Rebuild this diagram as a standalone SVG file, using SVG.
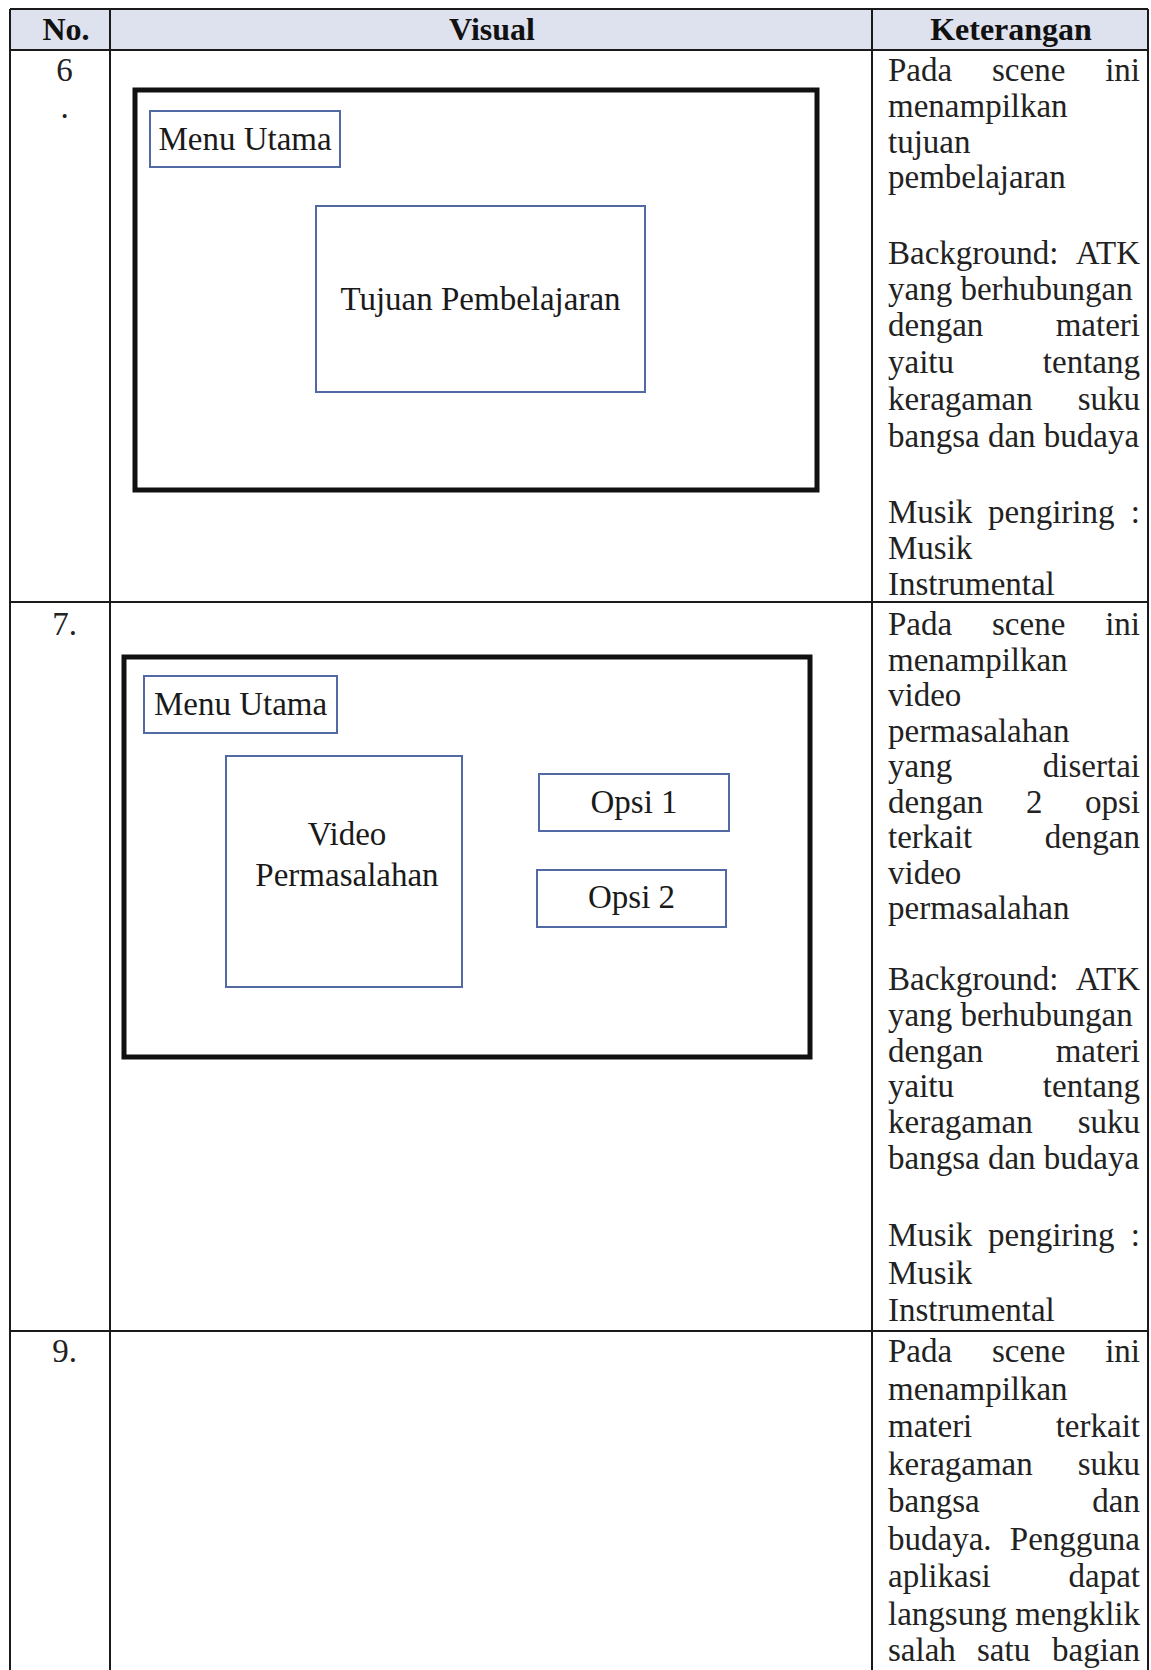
<svg xmlns="http://www.w3.org/2000/svg" width="1151" height="1670" viewBox="0 0 1151 1670">
<style>
  .grid { stroke: #1a1a1a; stroke-width: 2; fill: none; }
  .hdr { font-family: "Liberation Serif", "Times New Roman", serif; font-weight: bold; font-size: 32px; fill: #111; text-anchor: middle; }
  .num { font-family: "Liberation Serif", "Times New Roman", serif; font-size: 33px; fill: #222; text-anchor: middle; }
  .body { font-family: "Liberation Serif", "Times New Roman", serif; font-size: 33px; fill: #222; }
  .lbl { font-family: "Liberation Serif", "Times New Roman", serif; font-size: 33px; fill: #1a1a1a; text-anchor: middle; }
  .screen { fill: #ffffff; stroke: #111; stroke-width: 5; }
  .box { fill: #ffffff; stroke: #5369a3; stroke-width: 2; }
  .end { text-anchor: end; }
</style>
<rect x="0" y="0" width="1151" height="1670" fill="#ffffff"/>

<g id="table">
  <rect x="10" y="9" width="1138" height="41" fill="#dee2ee"/>
  <line class="grid" x1="10" y1="9" x2="1148" y2="9"/>
  <line class="grid" x1="10" y1="50" x2="1148" y2="50"/>
  <line class="grid" x1="10" y1="602" x2="1148" y2="602"/>
  <line class="grid" x1="10" y1="1331" x2="1148" y2="1331"/>
  <line class="grid" x1="10" y1="9" x2="10" y2="1670"/>
  <line class="grid" x1="110" y1="9" x2="110" y2="1670"/>
  <line class="grid" x1="872" y1="9" x2="872" y2="1670"/>
  <line class="grid" x1="1148" y1="9" x2="1148" y2="1670"/>
</g>

<g id="header">
  <text class="hdr" x="66" y="40">No.</text>
  <text class="hdr" x="492" y="40">Visual</text>
  <text class="hdr" x="1011" y="40">Keterangan</text>
</g>

<g id="row6">
  <text class="num" x="64.5" y="81">6</text>
  <text class="num" x="64.5" y="118">.</text>
  <g id="r6-screen"><rect class="screen" x="135" y="90" width="682" height="400"/></g>
  <g id="r6-menu"><rect class="box" x="150" y="111" width="190" height="56"/><text class="lbl" x="245" y="150">Menu Utama</text></g>
  <g id="r6-tujuan"><rect class="box" x="316" y="206" width="329" height="186"/><text class="lbl" x="480.5" y="310">Tujuan Pembelajaran</text></g>
  <g id="r6-ket" class="body">
    <text y="81"><tspan x="888">Pada</tspan><tspan x="992">scene</tspan><tspan x="1140" class="end">ini</tspan></text>
    <text x="888" y="117">menampilkan</text>
    <text x="888" y="152.5">tujuan</text>
    <text x="888" y="188">pembelajaran</text>
    <text y="263.5"><tspan x="888">Background:</tspan><tspan x="1140" class="end">ATK</tspan></text>
    <text x="888" y="300">yang berhubungan</text>
    <text y="336"><tspan x="888">dengan</tspan><tspan x="1140" class="end">materi</tspan></text>
    <text y="372.5"><tspan x="888">yaitu</tspan><tspan x="1140" class="end">tentang</tspan></text>
    <text y="409.5"><tspan x="888">keragaman</tspan><tspan x="1140" class="end">suku</tspan></text>
    <text x="888" y="447">bangsa dan budaya</text>
    <text y="522.5"><tspan x="888">Musik</tspan><tspan x="988">pengiring</tspan><tspan x="1140" class="end">:</tspan></text>
    <text x="888" y="559">Musik</text>
    <text x="888" y="595">Instrumental</text>
  </g>
</g>

<g id="row7">
  <text class="num" x="64.5" y="635">7.</text>
  <g id="r7-screen"><rect class="screen" x="124" y="657" width="686" height="400"/></g>
  <g id="r7-menu"><rect class="box" x="144" y="676" width="193" height="57"/><text class="lbl" x="240.5" y="715">Menu Utama</text></g>
  <g id="r7-video"><rect class="box" x="226" y="756" width="236" height="231"/><text class="lbl" x="347" y="845">Video</text><text class="lbl" x="347" y="886">Permasalahan</text></g>
  <g id="r7-opsi1"><rect class="box" x="539" y="774" width="190" height="57"/><text class="lbl" x="634" y="813">Opsi 1</text></g>
  <g id="r7-opsi2"><rect class="box" x="537" y="870" width="189" height="57"/><text class="lbl" x="631.5" y="908">Opsi 2</text></g>
  <g id="r7-ket" class="body">
    <text y="635"><tspan x="888">Pada</tspan><tspan x="992">scene</tspan><tspan x="1140" class="end">ini</tspan></text>
    <text x="888" y="670.5">menampilkan</text>
    <text x="888" y="706">video</text>
    <text x="888" y="741.5">permasalahan</text>
    <text y="777"><tspan x="888">yang</tspan><tspan x="1140" class="end">disertai</tspan></text>
    <text y="812.5"><tspan x="888">dengan</tspan><tspan x="1026">2</tspan><tspan x="1140" class="end">opsi</tspan></text>
    <text y="848"><tspan x="888">terkait</tspan><tspan x="1140" class="end">dengan</tspan></text>
    <text x="888" y="883.5">video</text>
    <text x="888" y="919">permasalahan</text>
    <text y="990"><tspan x="888">Background:</tspan><tspan x="1140" class="end">ATK</tspan></text>
    <text x="888" y="1025.8">yang berhubungan</text>
    <text y="1061.6"><tspan x="888">dengan</tspan><tspan x="1140" class="end">materi</tspan></text>
    <text y="1097.4"><tspan x="888">yaitu</tspan><tspan x="1140" class="end">tentang</tspan></text>
    <text y="1133.2"><tspan x="888">keragaman</tspan><tspan x="1140" class="end">suku</tspan></text>
    <text x="888" y="1169">bangsa dan budaya</text>
    <text y="1246"><tspan x="888">Musik</tspan><tspan x="988">pengiring</tspan><tspan x="1140" class="end">:</tspan></text>
    <text x="888" y="1283.5">Musik</text>
    <text x="888" y="1321">Instrumental</text>
  </g>
</g>

<g id="row9">
  <text class="num" x="64.5" y="1362">9.</text>
  <g id="r9-ket" class="body">
    <text y="1362"><tspan x="888">Pada</tspan><tspan x="992">scene</tspan><tspan x="1140" class="end">ini</tspan></text>
    <text x="888" y="1399.5">menampilkan</text>
    <text y="1437"><tspan x="888">materi</tspan><tspan x="1140" class="end">terkait</tspan></text>
    <text y="1474.5"><tspan x="888">keragaman</tspan><tspan x="1140" class="end">suku</tspan></text>
    <text y="1512"><tspan x="888">bangsa</tspan><tspan x="1140" class="end">dan</tspan></text>
    <text y="1549.5"><tspan x="888">budaya.</tspan><tspan x="1140" class="end">Pengguna</tspan></text>
    <text y="1587"><tspan x="888">aplikasi</tspan><tspan x="1140" class="end">dapat</tspan></text>
    <text y="1624.5"><tspan x="888">langsung</tspan><tspan x="1140" class="end">mengklik</tspan></text>
    <text y="1661"><tspan x="888">salah</tspan><tspan x="977">satu</tspan><tspan x="1140" class="end">bagian</tspan></text>
  </g>
</g>

<g id="connectors"></g>
</svg>
